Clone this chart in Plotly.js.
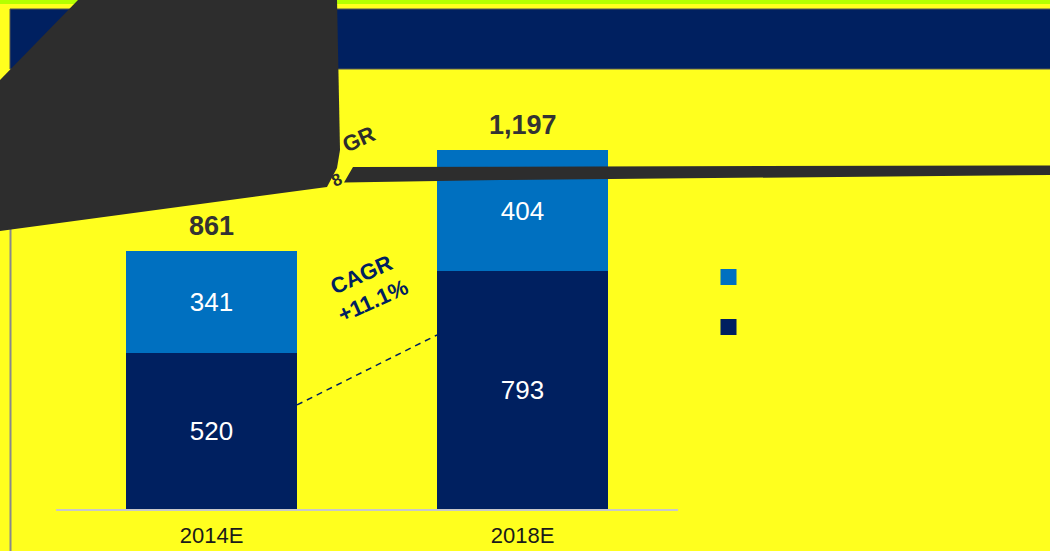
<!DOCTYPE html>
<html>
<head>
<meta charset="utf-8">
<script src="https://cdn.plot.ly/plotly-3.0.1.min.js"></script>
<style>html,body{margin:0;padding:0;background:#FFFF1E;}#chart{width:1050px;height:551px;}</style>
</head>
<body>
<div id="chart"></div>
<script>
// ---- data ----
var categories = ['2014E', '2018E'];
var bottomValues = [520, 793];
var topValues = [341, 404];
var totals = [861, 1197];
var totalLabels = ['861', '1,197'];
var cagrLabel = 'CAGR<br>+11.1%';
var hiddenCagrPieces = ['GR', '8'];

// ---- geometry helpers (figure pixels -> paper coords) ----
var W = 1050, H = 551;
var M = {l: 56, r: 372, t: 79, b: 42};
var PW = W - M.l - M.r, PH = H - M.t - M.b;
function px(x) { return (x - M.l) / PW; }
function py(y) { return (H - M.b - y) / PH; }
function poly(pts) {
  return 'M' + pts.map(function (p) { return px(p[0]) + ',' + py(p[1]); }).join(' L') + ' Z';
}

var NAVY = '#002060', BLUE = '#0070C0', YEL = '#FFFF1E', DARK = '#2D2D2D';
var FONT = 'Liberation Sans, Arial, sans-serif';

var traces = [
  {
    type: 'bar', x: categories, y: bottomValues, name: '',
    marker: {color: NAVY, line: {width: 0}},
    text: bottomValues.map(String), textposition: 'inside', insidetextanchor: 'middle',
    textfont: {color: '#FFFFFF', size: 26, family: FONT},
    showlegend: false, hoverinfo: 'skip'
  },
  {
    type: 'bar', x: categories, y: topValues, name: '',
    marker: {color: BLUE, line: {width: 0}},
    text: topValues.map(String), textposition: 'inside', insidetextanchor: 'middle',
    textfont: {color: '#FFFFFF', size: 26, family: FONT},
    showlegend: false, hoverinfo: 'skip'
  },
  // legend keys (no visible text in the reference)
  {type: 'scatter', mode: 'markers', x: [null], y: [null], name: '', legendgroup: 'a',
   marker: {symbol: 'square', size: 16, color: BLUE, line: {width: 0}}},
  {type: 'scatter', mode: 'markers', x: [null], y: [null], name: '', legendgroup: 'b',
   marker: {symbol: 'square', size: 16, color: NAVY, line: {width: 0}}}
];

var annotations = [];
categories.forEach(function (c, i) {
  annotations.push({
    x: c, y: totals[i], xref: 'x', yref: 'y', text: '<b>' + totalLabels[i] + '</b>',
    showarrow: false, xanchor: 'center', yanchor: 'bottom', yshift: 8,
    font: {size: 27, color: '#333333', family: FONT}
  });
});
annotations.push({
  x: px(367), y: py(287.5), xref: 'paper', yref: 'paper', xanchor: 'center', yanchor: 'middle',
  text: '<b>' + cagrLabel + '</b>',
  showarrow: false, textangle: -24, font: {size: 22, color: NAVY, family: FONT}
});
annotations.push({
  x: px(358), y: py(139), xref: 'paper', yref: 'paper', xanchor: 'center', yanchor: 'middle',
  text: '<b>' + hiddenCagrPieces[0] + '</b>',
  showarrow: false, textangle: -24, font: {size: 22, color: DARK, family: FONT}
});
annotations.push({
  x: px(336), y: py(180), xref: 'paper', yref: 'paper', xanchor: 'center', yanchor: 'middle',
  text: '<b>' + hiddenCagrPieces[1] + '</b>',
  showarrow: false, textangle: -24, font: {size: 17, color: DARK, family: FONT}
});

var shapes = [
  // top green strip
  {type: 'rect', xref: 'paper', yref: 'paper', x0: px(0), x1: px(1050), y0: py(0), y1: py(4),
   fillcolor: '#B4FF00', line: {width: 0}, layer: 'below'},
  // navy banner
  {type: 'rect', xref: 'paper', yref: 'paper', x0: px(10), x1: px(1052), y0: py(9), y1: py(69),
   fillcolor: NAVY, line: {width: 1, color: '#555555'}, layer: 'below'},
  // left vertical line
  {type: 'line', xref: 'paper', yref: 'paper', x0: px(10.5), x1: px(10.5), y0: py(225), y1: py(552),
   line: {width: 2, color: '#8A8A8A'}, layer: 'below'},
  // dashed CAGR connector
  {type: 'line', xref: 'x', yref: 'y', x0: 0.275, y0: 347, x1: 0.725, y1: 580,
   line: {color: NAVY, width: 1.5, dash: '6px,5px'}},
  // dark overlay polygon
  {type: 'path', xref: 'paper', yref: 'paper', layer: 'above',
   path: poly([[78, 0], [337, 0], [340, 150], [337, 168], [327, 187], [0, 231], [0, 80]]),
   fillcolor: DARK, line: {width: 0}},
  // dark band
  {type: 'path', xref: 'paper', yref: 'paper', layer: 'above',
   path: poly([[353, 167], [1052, 165.5], [1052, 175], [500, 180], [344, 182.5]]),
   fillcolor: DARK, line: {width: 0}}
];

var layout = {
  width: W, height: H,
  margin: M,
  paper_bgcolor: YEL, plot_bgcolor: YEL,
  font: {family: FONT, color: '#1A1A1A'},
  barmode: 'stack', bargap: 0.45,
  showlegend: true,
  legend: {x: px(708.5), y: py(262.5), xanchor: 'left', yanchor: 'top', bgcolor: 'rgba(0,0,0,0)',
           borderwidth: 0, tracegroupgap: 31, traceorder: 'grouped', font: {size: 12}},
  xaxis: {type: 'category', range: [-0.5, 1.5], showgrid: false, zeroline: false,
          showline: true, linecolor: '#C8C8C8', linewidth: 2, ticks: '', ticklabelstandoff: 6,
          tickfont: {size: 22, color: '#1A1A1A', family: FONT}, fixedrange: true},
  yaxis: {range: [0, PH / 0.3], showgrid: false, zeroline: false, showline: false,
          showticklabels: false, ticks: '', fixedrange: true},
  shapes: shapes,
  annotations: annotations
};

Plotly.newPlot('chart', traces, layout, {displayModeBar: false, staticPlot: true});
</script>
</body>
</html>
